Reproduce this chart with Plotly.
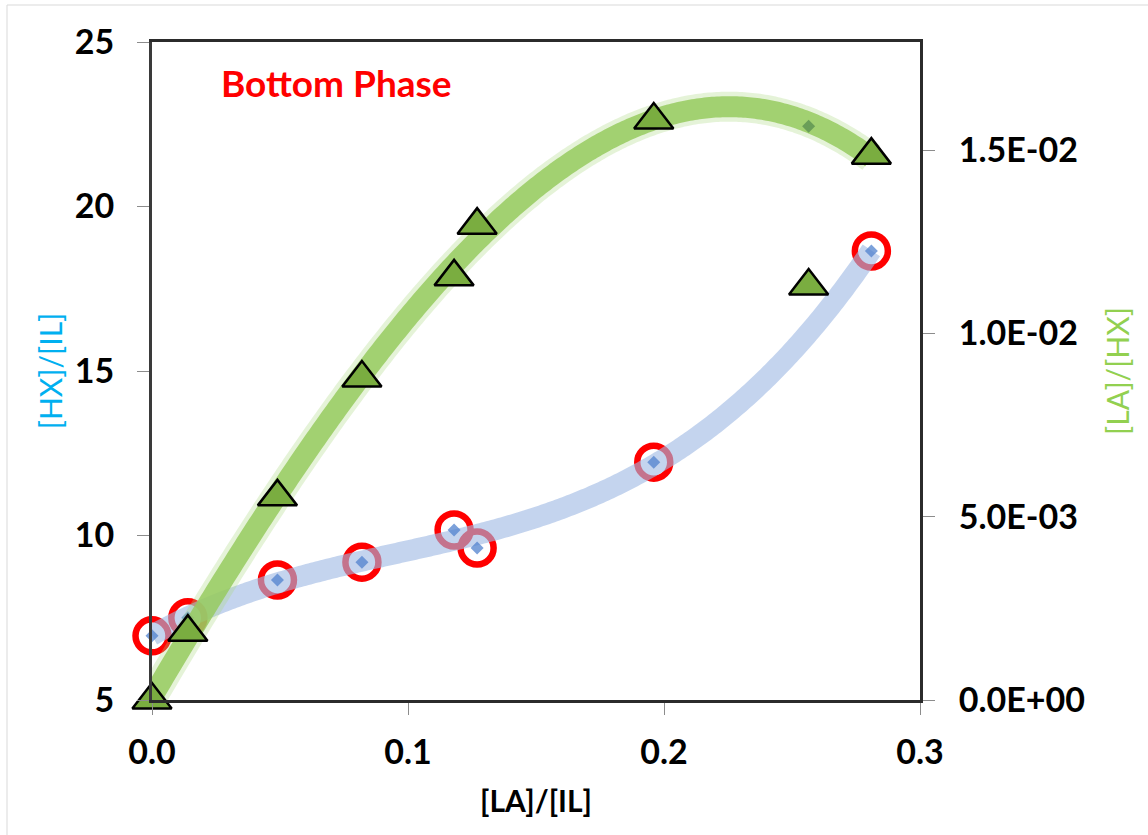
import numpy as np
import plotly.graph_objects as go

# ---------------- data ----------------
# Blue series: [HX]/[IL] vs [LA]/[IL]  (left axis)
la_il_blue = [0.0, 0.014, 0.049, 0.082, 0.118, 0.127, 0.196, 0.281]
hx_il = [6.95, 7.5, 8.65, 9.19, 10.17, 9.62, 12.23, 18.65]

# Green series: [LA]/[HX] vs [LA]/[IL]  (right axis)
la_il_green = [0.0, 0.014, 0.049, 0.082, 0.118, 0.127, 0.196, 0.2565, 0.281]
la_hx_points = [0.0, 0.00185, 0.00554, 0.00878, 0.01154, 0.01295, 0.01582, 0.01565, 0.01486]
la_hx_triangles = [0.0, 0.00185, 0.00554, 0.00878, 0.01154, 0.01295, 0.01582, 0.01129, 0.01486]

x_tickvals = [0.0, 0.1, 0.2, 0.3]
x_ticktext = ["0.0", "0.1", "0.2", "0.3"]
y_tickvals = [5, 10, 15, 20, 25]
y_ticktext = ["5", "10", "15", "20", "25"]
y2_tickvals = [0.0, 0.005, 0.010, 0.015]
y2_ticktext = ["0.0E+00", "5.0E-03", "1.0E-02", "1.5E-02"]

# ---------------- polynomial trend lines (like Excel) ----------------
blue_fit = np.polyfit(la_il_blue, hx_il, 3)
green_fit = np.polyfit(la_il_green, la_hx_points, 3)
xb = np.linspace(min(la_il_blue), max(la_il_blue), 300)
xg = np.linspace(min(la_il_green), max(la_il_green), 300)
yb = np.polyval(blue_fit, xb)
yg = np.polyval(green_fit, xg)

tick_font = dict(family="Lato", size=34, color="black", weight="bold")

fig = go.Figure()

# red open circles (under the bands)
fig.add_trace(go.Scatter(
    x=la_il_blue, y=hx_il, mode="markers", yaxis="y", cliponaxis=False,
    marker=dict(symbol="circle-open", size=33, color="#FF0000",
                line=dict(width=6.5, color="#FF0000")),
    hoverinfo="skip"))

# blue trend band
fig.add_trace(go.Scatter(
    x=xb, y=yb, mode="lines", yaxis="y",
    line=dict(color="rgba(160,185,228,0.62)", width=21, simplify=False),
    hoverinfo="skip"))

# green trend band (soft glow + core)
fig.add_trace(go.Scatter(
    x=xg, y=yg, mode="lines", yaxis="y2",
    line=dict(color="rgba(170,215,125,0.30)", width=30, simplify=False),
    hoverinfo="skip"))
fig.add_trace(go.Scatter(
    x=xg, y=yg, mode="lines", yaxis="y2",
    line=dict(color="rgba(150,202,95,0.85)", width=21, simplify=False),
    hoverinfo="skip"))

# green diamond data points
fig.add_trace(go.Scatter(
    x=la_il_green, y=la_hx_points, mode="markers", yaxis="y2", cliponaxis=False,
    marker=dict(symbol="diamond", size=10, color="#6A9E58"),
    hoverinfo="skip"))

# green triangles
fig.add_trace(go.Scatter(
    x=la_il_green, y=la_hx_triangles, mode="markers", yaxis="y2", cliponaxis=False,
    marker=dict(symbol="triangle-up", size=34, color="#7AAD40",
                line=dict(width=2.5, color="black")),
    hoverinfo="skip"))

# blue diamond data points
fig.add_trace(go.Scatter(
    x=la_il_blue, y=hx_il, mode="markers", yaxis="y", cliponaxis=False,
    marker=dict(symbol="diamond", size=10, color="rgba(80,130,205,0.75)"),
    hoverinfo="skip"))

fig.update_layout(
    width=1148, height=835,
    margin=dict(l=152, r=228, t=42, b=135, pad=0),
    paper_bgcolor="white", plot_bgcolor="white",
    showlegend=False,
    xaxis=dict(
        range=[0, 0.3], tickvals=x_tickvals, ticktext=x_ticktext,
        ticks="outside", ticklen=12, tickwidth=1, tickcolor="#8c8c8c",
        showline=True, linecolor="#2b2b2b", linewidth=3, mirror=True,
        showgrid=False, zeroline=False, tickfont=tick_font,
        ticklabelstandoff=8,
        title=dict(text="[LA]/[IL]", standoff=22,
                   font=dict(family="Lato", size=30, color="black", weight="bold")),
    ),
    yaxis=dict(
        range=[5, 25], tickvals=y_tickvals, ticktext=y_ticktext,
        ticks="outside", ticklen=12, tickwidth=1, tickcolor="#8c8c8c",
        showline=True, linecolor="#3a3a3a", linewidth=3,
        showgrid=False, zeroline=False, tickfont=tick_font,
        ticklabelstandoff=16,
        title=dict(text="[HX]/[IL]", standoff=4,
                   font=dict(family="Lato", size=30, color="#00B0F0")),
    ),
    yaxis2=dict(
        range=[0, 0.015 * 658 / 550], overlaying="y", side="right",
        tickvals=y2_tickvals, ticktext=y2_ticktext,
        ticks="outside", ticklen=12, tickwidth=1, tickcolor="#8c8c8c",
        showline=True, linecolor="#2b2b2b", linewidth=3,
        showgrid=False, zeroline=False, tickfont=tick_font,
        ticklabelstandoff=17,
        title=dict(text="[LA]/[HX]", standoff=24,
                   font=dict(family="Lato", size=30, color="#92D050")),
    ),
    annotations=[dict(
        text="Bottom Phase", xref="paper", yref="paper",
        x=(219 - 152) / 768, y=1 - (82 - 42) / 658,
        xanchor="left", yanchor="middle", showarrow=False,
        font=dict(family="Lato", size=37, color="#FF0000", weight="bold"))],
    shapes=[
        dict(type="line", xref="paper", yref="paper",
             x0=(7 - 152) / 768, x1=(7 - 152) / 768,
             y0=1 + (42 - 5) / 658, y1=-(835 - 700) / 658,
             line=dict(color="#D9D9D9", width=1)),
        dict(type="line", xref="paper", yref="paper",
             x0=(7 - 152) / 768, x1=(1148 - 152) / 768,
             y0=1 + (42 - 5) / 658, y1=1 + (42 - 5) / 658,
             line=dict(color="#D9D9D9", width=1)),
    ],
)

fig.write_html("out.html")
